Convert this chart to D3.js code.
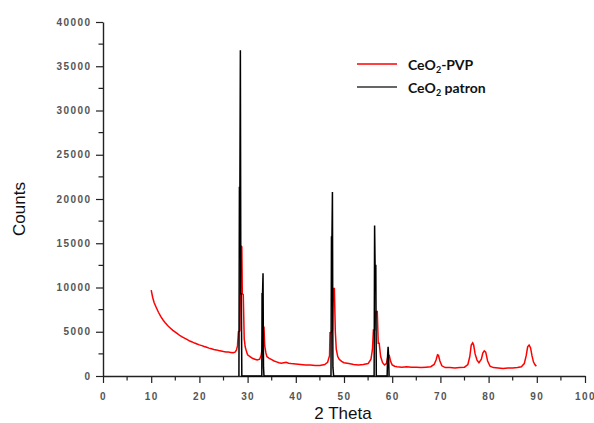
<!DOCTYPE html>
<html>
<head>
<meta charset="utf-8">
<script src="https://cdn.jsdelivr.net/npm/d3@7"></script>
<style>
  html, body { margin: 0; padding: 0; background: #fff; }
  svg { display: block; }
</style>
</head>
<body>
<svg id="chart" width="594" height="423"></svg>
<script>
// Axis ticks
const xTicks = [0, 10, 20, 30, 40, 50, 60, 70, 80, 90, 100];
const yTicks = [0, 5000, 10000, 15000, 20000, 25000, 30000, 35000, 40000];

// Series labels
const seriesNames = ["CeO2-PVP", "CeO2 patron"];

// Measured XRD pattern, CeO2-PVP: [2θ, counts]
const pvp2Theta = [
  10.0, 10.3, 10.6, 11.0, 11.5, 12.0, 12.5, 13.0, 13.5, 14.0, 14.5, 15.0, 15.5, 16.0, 16.5,
  17.0, 17.5, 18.0, 18.5, 19.0, 19.5, 20.0, 20.5, 21.0, 21.5, 22.0, 22.5, 23.0, 23.5, 24.0,
  24.5, 25.0, 25.5, 26.0, 26.5, 27.0, 27.4, 27.7, 27.9, 28.1, 28.4, 28.6, 28.8, 28.9, 29.1,
  29.3, 29.5, 29.8, 30.0, 30.5, 31.0, 31.5, 32.0, 32.5, 32.8, 33.0, 33.2, 33.4, 33.55, 33.8,
  34.0, 34.5, 35.0, 35.5, 36.0, 36.5, 37.0, 37.5, 38.0, 38.5, 39.0, 40.0, 41.0, 42.0, 43.0,
  44.0, 45.0, 46.0, 46.6, 47.0, 47.1, 47.3, 47.6, 47.8, 48.0, 48.2, 48.4, 48.7, 49.0, 49.5,
  50.0, 51.0, 52.0, 53.0, 54.0, 55.0, 55.6, 55.9, 56.1, 56.4, 56.6, 56.9, 57.1, 57.3, 57.6,
  58.0, 58.4, 58.8, 59.0, 59.2, 59.4, 59.7, 60.0, 60.5, 61.0, 62.0, 63.0, 64.0, 65.0, 66.0,
  67.0, 68.0, 68.7, 69.1, 69.4, 69.6, 69.9, 70.3, 71.0, 72.0, 73.0, 74.0, 75.0, 75.7, 76.1,
  76.4, 76.7, 76.9, 77.2, 77.6, 78.0, 78.5, 78.8, 79.1, 79.4, 79.8, 80.3, 81.0, 82.0, 83.0,
  84.0, 85.0, 86.0, 86.8, 87.4, 87.8, 88.1, 88.4, 88.7, 89.0, 89.3, 89.6, 89.9
];
const pvpCounts = [
  9700, 8900, 8300, 7800, 7200, 6700, 6300, 5950, 5650, 5400, 5150, 4950, 4750, 4550, 4400,
  4250, 4100, 3950, 3850, 3720, 3620, 3520, 3430, 3330, 3250, 3150, 3080, 3000, 2950, 2880,
  2830, 2760, 2720, 2700, 2660, 2620, 2700, 2950, 3400, 5000, 5100, 14700, 14600, 9300, 9200,
  4200, 3300, 2700, 2400, 2200, 2000, 1900, 1800, 1900, 2300, 3000, 5500, 5500, 3400, 2600,
  2200, 2000, 1850, 1700, 1600, 1500, 1450, 1500, 1550, 1450, 1400, 1350, 1300, 1250, 1250,
  1200, 1200, 1300, 1550, 2300, 4900, 4900, 5200, 9900, 9900, 5000, 3000, 2200, 1900, 1650,
  1500, 1400, 1300, 1250, 1300, 1400, 1900, 3000, 5200, 5200, 7300, 7300, 3700, 3700, 2200,
  1500, 1250, 1400, 2000, 2400, 2300, 1600, 1250, 1100, 1050, 1000, 1050, 1000, 1000, 950,
  1000, 1050, 1300, 1800, 2400, 2350, 1700, 1150, 950, 950, 900, 950, 1000, 1300, 2200,
  3500, 3750, 3500, 2500, 1800, 1500, 1900, 2600, 2850, 2700, 1700, 1100, 950, 900, 850,
  900, 900, 950, 1050, 1400, 2300, 3300, 3500, 3200, 2300, 1600, 1300, 1100
];

// Reference (patron) reflections, drawn as spikes: [2θ, counts]
const patron2Theta = [
  28.2, 28.3, 28.4, 28.5, 28.6, 28.7, 28.8,
  32.95, 33.0, 33.1, 33.2, 33.3, 33.4,
  47.3, 47.4, 47.5, 47.6, 47.7, 47.85,
  56.25, 56.35, 56.45, 56.6, 56.7,
  58.95, 59.05, 59.15, 59.25, 59.35
];
const patronCounts = [
  0, 21300, 21300, 36800, 9300, 9300, 0,
  0, 9300, 9300, 11600, 1000, 0,
  0, 15700, 15700, 20800, 1000, 0,
  0, 17000, 12500, 12500, 0,
  0, 2300, 3300, 2300, 0
];

const svg = d3.select("#chart");
const plot = { left: 103, right: 585, top: 22, bottom: 376 };

const x = d3.scaleLinear().domain([0, 100]).range([plot.left, plot.right]);
const y = d3.scaleLinear().domain([0, 40000]).range([plot.bottom, plot.top]);

const labelFont = "Arial, 'Liberation Sans', sans-serif";

// Minor ticks
const xMinor = d3.range(5, 100, 10);
const yMinor = d3.range(2500, 40000, 5000);

svg.append("g")
  .selectAll("line")
  .data(xMinor)
  .join("line")
  .attr("x1", d => x(d)).attr("x2", d => x(d))
  .attr("y1", plot.bottom).attr("y2", plot.bottom + 4.5)
  .attr("stroke", "#222").attr("stroke-width", 1.2);

svg.append("g")
  .selectAll("line")
  .data(yMinor)
  .join("line")
  .attr("x1", plot.left - 4.5).attr("x2", plot.left)
  .attr("y1", d => y(d)).attr("y2", d => y(d))
  .attr("stroke", "#222").attr("stroke-width", 1.2);

// Axes
const fmt = d3.format("d");
const xAxis = svg.append("g")
  .attr("transform", `translate(0,${plot.bottom})`)
  .call(d3.axisBottom(x).tickValues(xTicks).tickFormat(fmt).tickSize(7).tickPadding(10).tickSizeOuter(0));
const yAxis = svg.append("g")
  .attr("transform", `translate(${plot.left},0)`)
  .call(d3.axisLeft(y).tickValues(yTicks).tickFormat(fmt).tickSize(7).tickPadding(6).tickSizeOuter(0));

[xAxis, yAxis].forEach(g => {
  g.select(".domain").attr("stroke", "#222").attr("stroke-width", 1.4);
  g.selectAll(".tick line").attr("stroke", "#222").attr("stroke-width", 1.2);
  g.selectAll(".tick text")
    .attr("font-family", labelFont)
    .attr("font-size", 10)
    .attr("font-weight", "bold")
    .attr("letter-spacing", "1.4px")
    .attr("fill", "#555");
});
yAxis.selectAll(".tick text").attr("dx", "1.4px");

// Axis titles
svg.append("text")
  .attr("x", x(50) - 1)
  .attr("y", 419)
  .attr("text-anchor", "middle")
  .attr("font-family", labelFont)
  .attr("font-size", 17)
  .attr("fill", "#111")
  .text("2 Theta");

svg.append("text")
  .attr("transform", `translate(25,209) rotate(-90)`)
  .attr("text-anchor", "middle")
  .attr("font-family", labelFont)
  .attr("font-size", 17)
  .attr("fill", "#111")
  .text("Counts");

// Series
const line = d3.line().x(d => x(d[0])).y(d => y(d[1]));

const pvpData = pvp2Theta.map((t, i) => [t, pvpCounts[i]]);
const patronData = patron2Theta.map((t, i) => [t, patronCounts[i]]);

svg.append("path")
  .datum(pvpData)
  .attr("d", line)
  .attr("fill", "none")
  .attr("stroke", "#ff0000")
  .attr("stroke-width", 1.5)
  .attr("stroke-linejoin", "miter");

svg.append("path")
  .datum(patronData)
  .attr("d", line)
  .attr("fill", "none")
  .attr("stroke", "#000")
  .attr("stroke-width", 1.5);

// Legend
const legend = svg.append("g");
const legendColors = ["#ff0000", "#333"];
const legendY = [64, 87];
seriesNames.forEach((name, i) => {
  legend.append("line")
    .attr("x1", 357).attr("x2", 397)
    .attr("y1", legendY[i]).attr("y2", legendY[i])
    .attr("stroke", legendColors[i]).attr("stroke-width", 1.5);
  const t = legend.append("text")
    .attr("x", 408)
    .attr("y", legendY[i] + 6)
    .attr("font-family", "Lato, 'Open Sans', sans-serif")
    .attr("font-weight", "bold")
    .attr("font-size", 14)
    .attr("fill", "#111");
  const parts = name.split("2");
  t.append("tspan").text(parts[0]);
  t.append("tspan").attr("font-size", 9).attr("dy", 3).text("2");
  t.append("tspan").attr("dy", -3).text(parts[1]);
});
</script>
</body>
</html>
